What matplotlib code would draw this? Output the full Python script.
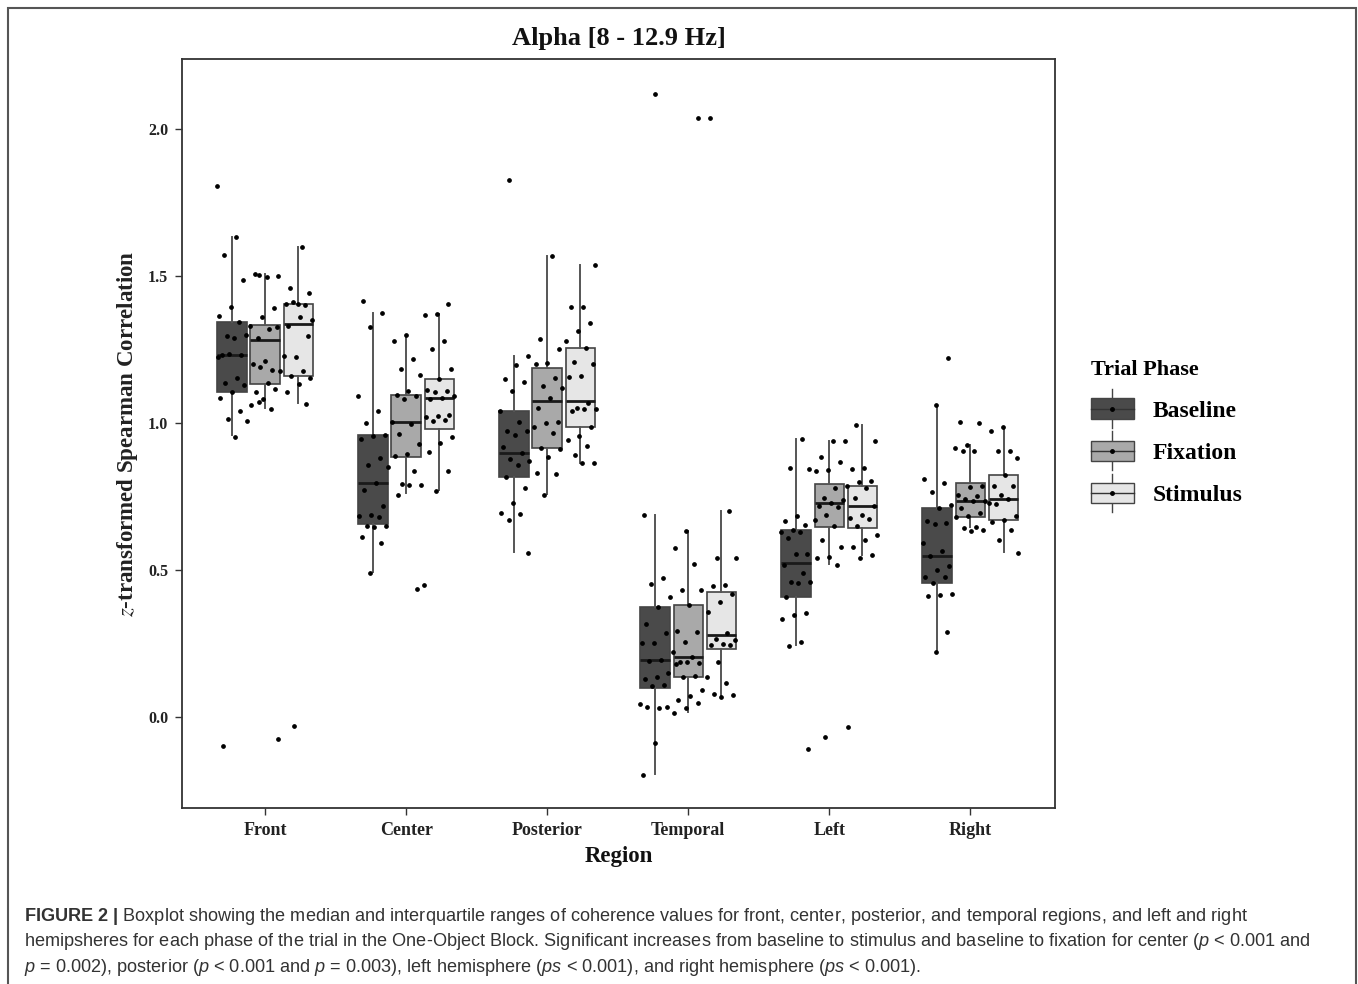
import numpy as np
import matplotlib
import matplotlib.pyplot as plt
from matplotlib.patches import Rectangle
from matplotlib.lines import Line2D
from matplotlib.legend_handler import HandlerBase

matplotlib.use("Agg")

regions = ["Front", "Center", "Posterior", "Temporal", "Left", "Right"]
phases = ["Baseline", "Fixation", "Stimulus"]

# box summaries per region: lower whisker, Q1, median, Q3, upper whisker
baseline_stats = [
    [0.960, 1.106, 1.230, 1.345, 1.634],
    [0.494, 0.655, 0.796, 0.959, 1.375],
    [0.562, 0.817, 0.897, 1.042, 1.228],
    [-0.195, 0.097, 0.194, 0.375, 0.687],
    [0.245, 0.407, 0.523, 0.636, 0.944],
    [0.228, 0.455, 0.548, 0.710, 1.061],
]
fixation_stats = [
    [1.051, 1.134, 1.283, 1.334, 1.507],
    [0.761, 0.885, 1.004, 1.095, 1.296],
    [0.759, 0.914, 1.076, 1.186, 1.568],
    [0.016, 0.134, 0.205, 0.379, 0.634],
    [0.519, 0.645, 0.726, 0.791, 0.940],
    [0.647, 0.679, 0.736, 0.797, 0.924],
]
stimulus_stats = [
    [1.069, 1.158, 1.338, 1.406, 1.599],
    [0.772, 0.979, 1.084, 1.150, 1.371],
    [0.865, 0.987, 1.076, 1.254, 1.537],
    [0.067, 0.231, 0.279, 0.426, 0.701],
    [0.551, 0.642, 0.718, 0.786, 0.993],
    [0.561, 0.670, 0.741, 0.823, 0.985],
]

# individual (jittered) observations per region
baseline_pts = [
    [1.805, 1.634, 1.57, 1.486, 1.394, 1.364, 1.345, 1.294, 1.30, 1.29, 1.232, 1.23,
     1.235, 1.225, 1.154, 1.136, 1.13, 1.106, 1.085, 1.04, 1.012, 1.005, 0.953, -0.098],
    [1.416, 1.375, 1.325, 1.09, 1.042, 1.001, 0.959, 0.955, 0.944, 0.88, 0.857, 0.85,
     0.796, 0.772, 0.718, 0.687, 0.685, 0.68, 0.65, 0.648, 0.645, 0.613, 0.593, 0.49],
    [1.827, 1.228, 1.197, 1.15, 1.14, 1.107, 1.042, 1.004, 0.974, 0.972, 0.96, 0.919,
     0.897, 0.876, 0.87, 0.857, 0.817, 0.778, 0.729, 0.693, 0.69, 0.67, 0.559],
    [2.12, 0.686, 0.472, 0.451, 0.409, 0.375, 0.316, 0.287, 0.253, 0.25, 0.194, 0.19,
     0.149, 0.135, 0.13, 0.109, 0.105, 0.043, 0.03, 0.035, 0.032, -0.09, -0.197],
    [0.944, 0.846, 0.843, 0.685, 0.668, 0.652, 0.635, 0.63, 0.628, 0.61, 0.553, 0.553,
     0.515, 0.491, 0.46, 0.458, 0.455, 0.407, 0.353, 0.345, 0.332, 0.256, 0.241, -0.11],
    [1.222, 1.061, 0.808, 0.797, 0.766, 0.721, 0.71, 0.667, 0.659, 0.655, 0.593, 0.565,
     0.548, 0.514, 0.5, 0.477, 0.475, 0.455, 0.417, 0.414, 0.41, 0.29, 0.222],
]
fixation_pts = [
    [1.504, 1.50, 1.497, 1.507, 1.39, 1.36, 1.33, 1.32, 1.29, 1.325, 1.21, 1.20, 1.18,
     1.19, 1.175, 1.136, 1.106, 1.115, 1.08, 1.06, 1.047, 1.07, -0.074],
    [1.30, 1.28, 1.217, 1.183, 1.163, 1.107, 1.095, 1.09, 1.08, 1.004, 0.997, 0.963,
     0.929, 0.895, 0.887, 0.837, 0.793, 0.79, 0.788, 0.755, 0.436],
    [1.568, 1.285, 1.251, 1.203, 1.20, 1.152, 1.124, 1.12, 1.086, 1.05, 1.004, 1.0,
     0.987, 0.967, 0.914, 0.91, 0.885, 0.829, 0.825, 0.755],
    [2.037, 0.634, 0.574, 0.519, 0.43, 0.432, 0.379, 0.293, 0.29, 0.256, 0.222, 0.205,
     0.185, 0.183, 0.187, 0.18, 0.139, 0.137, 0.092, 0.071, 0.058, 0.047, 0.03, 0.012],
    [0.94, 0.937, 0.885, 0.866, 0.84, 0.838, 0.778, 0.744, 0.738, 0.726, 0.718, 0.715,
     0.687, 0.67, 0.648, 0.602, 0.579, 0.545, 0.542, 0.515, -0.067],
    [1.003, 1.0, 0.924, 0.914, 0.906, 0.903, 0.786, 0.783, 0.755, 0.75, 0.74, 0.736,
     0.733, 0.71, 0.695, 0.684, 0.679, 0.647, 0.642, 0.636, 0.633],
]
stimulus_pts = [
    [1.599, 1.458, 1.443, 1.406, 1.403, 1.40, 1.41, 1.35, 1.36, 1.33, 1.295, 1.223,
     1.226, 1.175, 1.158, 1.152, 1.134, 1.106, 1.066, -0.03],
    [1.404, 1.371, 1.368, 1.277, 1.251, 1.183, 1.15, 1.112, 1.11, 1.105, 1.09, 1.084,
     1.08, 1.027, 1.025, 1.02, 1.01, 1.005, 0.953, 0.931, 0.902, 0.838, 0.769, 0.448],
    [1.537, 1.396, 1.393, 1.339, 1.311, 1.277, 1.254, 1.208, 1.20, 1.16, 1.155, 1.069,
     1.05, 1.048, 1.046, 1.04, 0.987, 0.956, 0.942, 0.922, 0.891, 0.865, 0.862],
    [2.037, 0.701, 0.54, 0.542, 0.448, 0.445, 0.418, 0.392, 0.358, 0.285, 0.264, 0.262,
     0.248, 0.245, 0.243, 0.188, 0.135, 0.115, 0.078, 0.075, 0.067],
    [0.993, 0.938, 0.846, 0.843, 0.804, 0.80, 0.786, 0.778, 0.744, 0.718, 0.687, 0.676,
     0.674, 0.65, 0.619, 0.602, 0.579, 0.551, 0.542, -0.033],
    [0.985, 0.974, 0.906, 0.903, 0.88, 0.823, 0.787, 0.785, 0.755, 0.727, 0.74, 0.725,
     0.684, 0.67, 0.664, 0.636, 0.602, 0.559],
]

fills = ["#4a4a4a", "#a9a9a9", "#e6e6e6"]
offsets = [-0.235, 0.0, 0.235]
W, H = 1358, 984
serif = "Liberation Serif"


def fig_xy(x, y):
    return x / W, 1 - y / H


class BoxKey(HandlerBase):
    def create_artists(self, legend, orig_handle, xd, yd, width, height, fontsize, trans):
        x0, y0 = -xd, -yd
        cx, cy = x0 + width / 2, y0 + height / 2
        box = Rectangle((x0, y0), width, height, facecolor=orig_handle.get_facecolor(),
                        edgecolor="#444444", lw=1.0, transform=trans)
        med = Line2D([x0, x0 + width], [cy, cy], color="#333333", lw=1.0, transform=trans)
        wh_top = Line2D([cx, cx], [y0 + height, y0 + height * 1.45], color="#444444",
                        lw=1.0, transform=trans)
        wh_bot = Line2D([cx, cx], [y0, y0 - height * 0.45], color="#444444",
                        lw=1.0, transform=trans)
        dot = Line2D([cx], [cy], marker="o", ms=2.5, color="black", transform=trans)
        return [wh_top, wh_bot, box, med, dot]


fig = plt.figure(figsize=(W / 100, H / 100), dpi=100)
ax = fig.add_axes([182 / W, 1 - 808 / H, (1055 - 182) / W, (808 - 59) / H])

all_stats = [baseline_stats, fixation_stats, stimulus_stats]
all_pts = [baseline_pts, fixation_pts, stimulus_pts]
centers = np.arange(1, len(regions) + 1)

for k in range(3):
    stats = []
    for lo, q1, med, q3, hi in all_stats[k]:
        stats.append(dict(whislo=lo, q1=q1, med=med, q3=q3, whishi=hi, fliers=[]))
    ax.bxp(stats, positions=centers + offsets[k], widths=0.21, patch_artist=True,
           showcaps=False, showfliers=False,
           boxprops=dict(facecolor=fills[k], edgecolor="#444444", lw=1.2),
           whiskerprops=dict(color="#555555", lw=1.4),
           medianprops=dict(color="#1a1a1a", lw=2.0), zorder=2)
    for g, vals in enumerate(all_pts[k]):
        n = len(vals)
        jit = (np.mod(np.arange(n) * 0.618034 + 0.31 * k + 0.17 * g, 1.0) * 2 - 1) * 0.11
        ax.plot(centers[g] + offsets[k] + jit, vals, ls="none", marker="o", ms=2.4,
                color="black", zorder=3)

ax.set_xlim(0.41, 6.6)
ax.set_ylim(-0.31, 2.238)
ax.set_xticks(centers)
ax.set_xticklabels(regions)
ax.set_yticks([0.0, 0.5, 1.0, 1.5, 2.0])
ax.set_yticklabels(["0.0", "0.5", "1.0", "1.5", "2.0"])
for lab in ax.get_xticklabels() + ax.get_yticklabels():
    lab.set_fontfamily(serif)
    lab.set_fontweight("bold")
    lab.set_color("#222222")
for lab in ax.get_xticklabels():
    lab.set_fontsize(13)
for lab in ax.get_yticklabels():
    lab.set_fontsize(11.5)
ax.tick_params(direction="out", length=5, width=1, color="#333333", pad=5)
for sp in ax.spines.values():
    sp.set_linewidth(1.3)
    sp.set_color("#333333")

ax.set_title("Alpha [8 - 12.9 Hz]", fontfamily=serif, fontweight="bold",
             fontsize=19, color="#111111", pad=10)
ax.set_xlabel("Region", fontfamily=serif, fontweight="bold", fontsize=16.5,
              color="#111111", labelpad=5)
ylab = ax.set_ylabel(r"$\it{z}$-transformed Spearman Correlation", fontfamily=serif,
                     fontweight="bold", fontsize=16.5, color="#222222", labelpad=6)
ylab.set_math_fontfamily("stix")

handles = [Rectangle((0, 0), 1, 1, facecolor=c) for c in fills]
leg = fig.legend(handles, phases, handler_map={Rectangle: BoxKey()},
                 loc="upper left", bbox_to_anchor=fig_xy(1074, 343), frameon=False,
                 title="Trial Phase", alignment="left", handlelength=1.85,
                 handleheight=0.95, labelspacing=0.8, handletextpad=0.8,
                 borderpad=0.2, prop=dict(family=serif, weight="bold", size=17))
leg.get_title().set_fontfamily(serif)
leg.get_title().set_fontweight("bold")
leg.get_title().set_fontsize(16)

# figure frame (open at the bottom, as cropped)
fig.add_artist(Rectangle(fig_xy(8, 1000), 1348 / W, 992 / H, transform=fig.transFigure,
                         fill=False, edgecolor="#555555", lw=1.5))

cap = dict(fontsize=13.05, color="#333333", family="Liberation Sans",
           math_fontfamily="custom", va="baseline", ha="left")
plt.rcParams["mathtext.fontset"] = "custom"
plt.rcParams["mathtext.it"] = "Liberation Sans:italic"
plt.rcParams["mathtext.bf"] = "Liberation Sans:bold"
plt.rcParams["mathtext.rm"] = "Liberation Sans"
line1 = (r"$\mathbf{FIGURE\ 2\ |}$ Boxplot showing the median and interquartile ranges of "
         "coherence values for front, center, posterior, and temporal regions, and left and right")
line2 = ("hemipsheres for each phase of the trial in the One-Object Block. Significant increases "
         "from baseline to stimulus and baseline to fixation for center ($p$ < 0.001 and")
line3 = (r"$p$ = 0.002), posterior ($p$ < 0.001 and $p$ = 0.003), left hemisphere ($ps$ < 0.001), "
         "and right hemisphere ($ps$ < 0.001).")
for i, txt in enumerate([line1, line2, line3]):
    fig.text(*fig_xy(24, 921 + 25.5 * i), txt, **cap)

fig.savefig("out.png", dpi=100)
